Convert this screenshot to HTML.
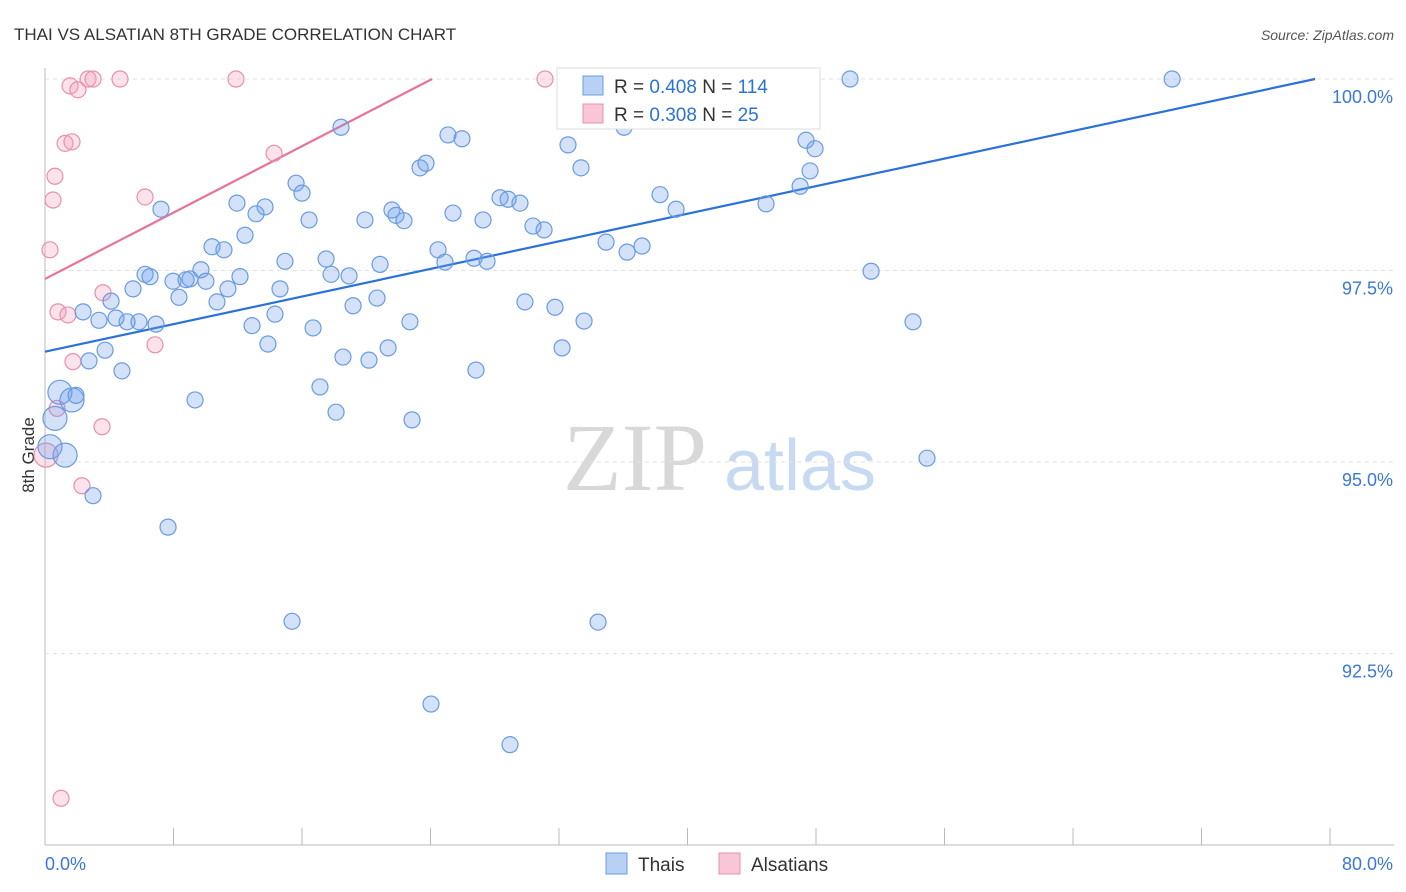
<!DOCTYPE html>
<html><head><meta charset="utf-8">
<style>
body{margin:0;background:#fff;font-family:"Liberation Sans",sans-serif;}
svg{display:block}
</style></head>
<body>
<svg id="chart" width="1406" height="892" xmlns="http://www.w3.org/2000/svg">
<text x="14" y="40" font-size="17" fill="#333">THAI VS ALSATIAN 8TH GRADE CORRELATION CHART</text>
<text x="1394" y="40" font-size="14" fill="#555" font-style="italic" text-anchor="end">Source: ZipAtlas.com</text>
<text x="34" y="455" font-size="17" fill="#333" text-anchor="middle" transform="rotate(-90 34 455)">8th Grade</text>
<g>
<text x="635" y="490" font-size="96" fill="#d8d8d8" font-family="Liberation Serif,serif" text-anchor="middle">ZIP</text>
<text x="800" y="490" font-size="72" fill="#c8daf2" text-anchor="middle">atlas</text>
</g>
<g id="grid"></g><g id="axes"></g><g id="lines"></g><g id="pts"></g>
<g>
<rect x="557" y="68" width="263" height="61" fill="#fff" stroke="#ddd"/>
<rect x="583" y="76" width="20" height="19" fill="#b8d0f4" stroke="#6a9be0"/>
<rect x="583" y="104" width="20" height="19" fill="#f8c6d6" stroke="#e890aa"/>
<text x="614" y="93" font-size="19" fill="#333">R = <tspan fill="#2a72d8">0.408</tspan>   N = <tspan fill="#2a72d8">114</tspan></text>
<text x="614" y="121" font-size="19" fill="#333">R = <tspan fill="#2a72d8">0.308</tspan>   N =  <tspan fill="#2a72d8">25</tspan></text>
</g>
<g>
<rect x="606" y="853" width="21" height="21" fill="#b8d0f4" stroke="#6a9be0"/>
<text x="638" y="871" font-size="19" fill="#333">Thais</text>
<rect x="719" y="853" width="21" height="21" fill="#f8c6d6" stroke="#e890aa"/>
<text x="751" y="871" font-size="19" fill="#333">Alsatians</text>
</g>
</svg>
<script>
const xTicks=[0,8,16,24,32,40,48,56,64,72,80];
const yTicks=[100,97.5,95,92.5];
const yTickLabels=["100.0%","97.5%","95.0%","92.5%"];
const xEndLabels=["0.0%","80.0%"];
const thaiX=[0.31,0.93,0.62,1.25,1.68,1.93,2.99,2.74,3.74,4.79,2.37,3.36,4.11,4.42,5.11,5.85,6.91,5.48,6.23,6.54,7.97,8.34,8.78,9.03,9.71,10.02,10.71,11.39,12.14,10.40,11.14,12.45,11.95,13.14,13.70,7.22,12.89,13.88,14.32,14.63,14.94,15.63,16.00,16.44,16.69,17.12,17.50,17.81,18.12,18.93,19.18,18.43,18.55,19.92,20.17,20.67,20.86,21.36,21.60,21.85,22.35,22.72,22.85,23.35,23.72,24.03,24.47,24.90,25.09,25.96,25.40,26.71,26.83,27.27,27.52,28.33,28.83,29.57,28.95,29.88,30.38,31.07,31.75,32.19,32.56,33.37,33.56,34.43,34.93,36.24,37.17,38.29,39.29,15.38,7.66,9.34,44.89,47.01,47.38,47.63,47.94,51.43,54.04,54.91,50.12,70.17,32.81,33.00,34.87,36.11,36.05,38.91,41.53,43.58,39.54];
const thaiY=[95.20,95.91,95.57,95.09,95.81,95.87,94.56,96.32,96.46,96.19,96.96,96.85,97.10,96.88,96.83,96.83,96.80,97.26,97.45,97.42,97.36,97.15,97.38,97.39,97.51,97.36,97.09,97.26,97.42,97.81,97.77,97.96,98.38,98.24,98.33,98.30,96.78,96.54,96.93,97.26,97.62,98.64,98.51,98.16,96.75,95.98,97.65,97.45,95.65,97.43,97.04,99.37,96.37,98.16,96.33,97.14,97.58,96.49,98.29,98.22,98.15,96.83,95.55,98.84,98.90,91.84,97.77,97.61,99.27,99.22,98.25,97.66,96.20,98.16,97.62,98.45,98.43,98.38,91.31,97.09,98.08,98.03,97.02,96.49,99.14,98.84,96.84,92.91,97.87,97.74,97.82,98.49,98.30,92.92,94.15,95.81,98.37,98.60,99.20,98.80,99.09,97.49,96.83,95.05,100,100,100,100,100,100,99.37,100,100,100,100];
const thaiBig=[0,1,2,3,4];
const alsX=[0.06,0.31,0.50,0.62,0.81,1.25,1.56,1.68,2.05,1.43,1.74,2.68,2.99,4.67,3.61,3.55,2.30,6.23,6.85,11.89,14.26,31.13,1.00,0.75];
const alsY=[95.09,97.77,98.42,98.73,96.96,99.16,99.91,99.18,99.86,96.92,96.31,100,100,100,97.21,95.46,94.69,98.46,96.53,100,99.03,100,90.61,95.70];
const alsBig=[0];
const thaiTrend=[[0,96.44],[79.07,100]];
const alsTrend=[[0,97.39],[24.1,100]];
const X0=45,X1=1330,YT=79,YB=845;
const sx=v=>X0+(v-0)/80*(X1-X0);
const sy=v=>YT+(100-v)/10*(YB-YT);
const NS="http://www.w3.org/2000/svg";
function mk(tag,attrs,parent){const e=document.createElementNS(NS,tag);for(const k in attrs)e.setAttribute(k,attrs[k]);document.getElementById(parent).appendChild(e);return e;}
yTicks.forEach((t,i)=>{
 const g=mk('line',{x1:X0,x2:1394,y1:sy(t),y2:sy(t),stroke:'#e2e2e2','stroke-dasharray':'4,4'},'grid');
 
 
 const tx=mk('text',{x:1393,y:sy(t)+24,'font-size':18,fill:'#3a78d8','text-anchor':'end'},'axes');
 tx.textContent=yTickLabels[i];
 
 
});
const ax=mk('line',{x1:X0,x2:X0,y1:68,y2:YB,stroke:'#bbb'},'axes');


const bx=mk('line',{x1:X0,x2:1394,y1:YB,y2:YB,stroke:'#bbb'},'axes');


xTicks.forEach(t=>{
 const l=mk('line',{x1:sx(t),x2:sx(t),y1:YB,y2:828,stroke:'#bbb'},'axes');
 
 
});
const xl0=mk('text',{x:45,y:870,'font-size':18,fill:'#3a78d8'},'axes');xl0.textContent=xEndLabels[0];


const xl1=mk('text',{x:1393,y:870,'font-size':18,fill:'#3a78d8','text-anchor':'end'},'axes');xl1.textContent=xEndLabels[1];


function pts(xs,ys,big,fill,stroke,name){
 xs.forEach((x,i)=>{
  const c=mk('circle',{cx:sx(x),cy:sy(ys[i]),r:big.includes(i)?12:8,fill:fill,stroke:stroke,'stroke-width':1.2},'pts');
  
  
 });
}
pts(alsX,alsY,alsBig,'rgba(245,160,190,0.3)','#e890aa','alsatian-point');
pts(thaiX,thaiY,thaiBig,'rgba(110,160,235,0.3)','#6a9be0','thai-point');
const tl=mk('line',{x1:sx(thaiTrend[0][0]),y1:sy(thaiTrend[0][1]),x2:sx(thaiTrend[1][0]),y2:sy(thaiTrend[1][1]),stroke:'#2a72d8','stroke-width':2.2},'lines');


const pl=mk('line',{x1:sx(alsTrend[0][0]),y1:sy(alsTrend[0][1]),x2:sx(alsTrend[1][0]),y2:sy(alsTrend[1][1]),stroke:'#e8729a','stroke-width':2.2},'lines');


</script>
</body></html>
